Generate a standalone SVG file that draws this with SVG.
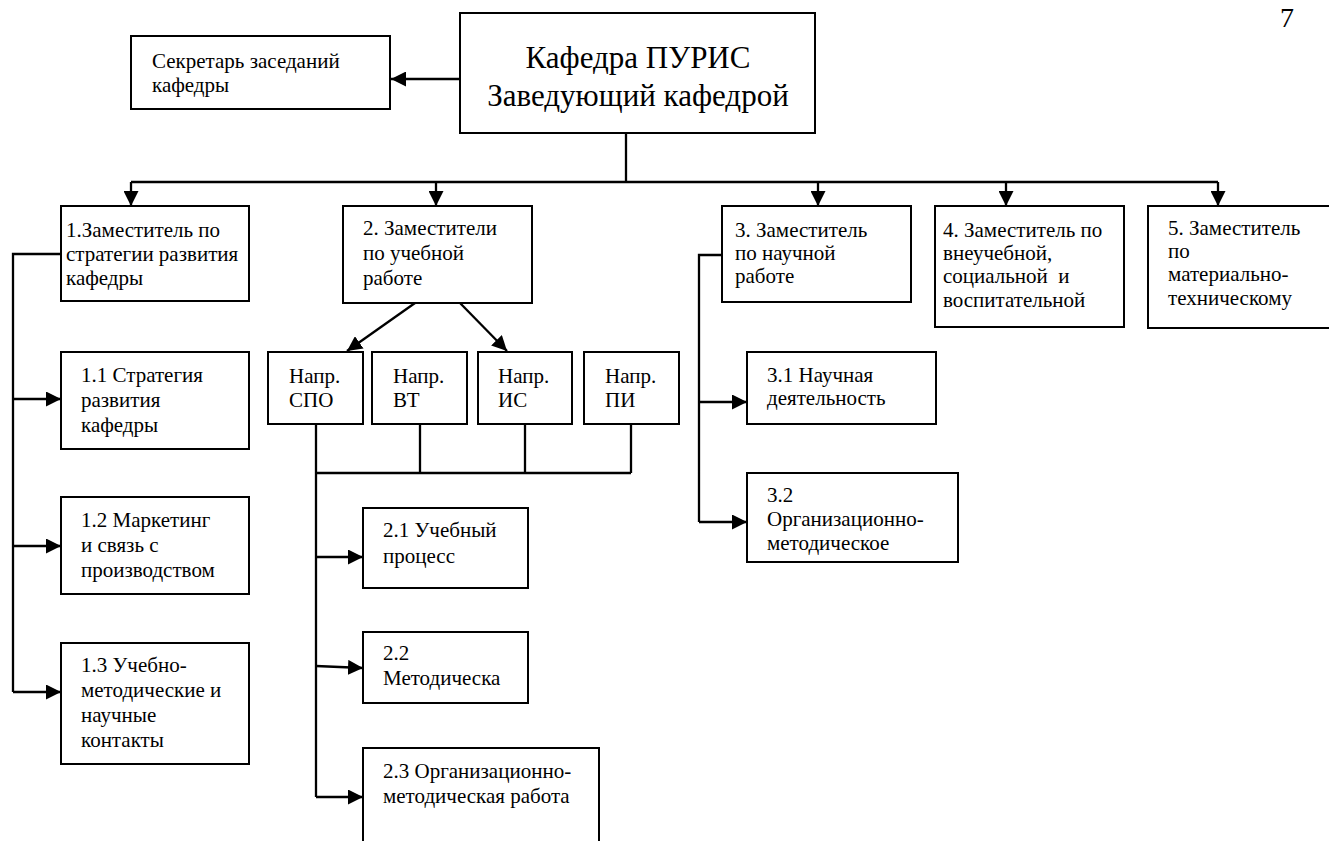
<svg xmlns="http://www.w3.org/2000/svg" width="1329" height="841" viewBox="0 0 1329 841" xml:lang="ru">
<defs>
<marker id="ah" markerUnits="userSpaceOnUse" markerWidth="15" markerHeight="15" viewBox="0 0 15 15" refX="15" refY="7.5" orient="auto">
<path d="M0,0 L15,7.5 L0,15 Z" fill="#000"/>
</marker>
</defs>
<rect width="1329" height="841" fill="#fff"/>
<text x="1287" y="27" style="font-family:'Liberation Serif','Times New Roman',serif;font-size:28px" text-anchor="middle">7</text>

<g id="connectors" fill="none" stroke="#000" stroke-width="2.3">
<path d="M626,133 V182 M131,182 H1218 M61,254 H13 V692 M316,424 V797 M420,424 V473 M525,424 V473 M631,424 V473 M316,473 H631 M722,255 H699 V522"/>
<g marker-end="url(#ah)">
<path d="M460,79 H391"/>
<path d="M131,182 V206"/>
<path d="M436,182 V206"/>
<path d="M818,182 V206"/>
<path d="M1006,182 V206"/>
<path d="M1218,182 V206"/>
<path d="M13,399 H61"/>
<path d="M13,546 H61"/>
<path d="M13,692 H61"/>
<path d="M415,303 L347,351"/>
<path d="M460,303 L507,351"/>
<path d="M316,557 H363"/>
<path d="M316,666 L363,668"/>
<path d="M316,797 H363"/>
<path d="M699,402 H747"/>
<path d="M699,522 H747"/>
</g>
</g>

<g id="boxes" fill="#fff" stroke="#000" stroke-width="2">
<rect id="r-head" x="460" y="13" width="355" height="120"/>
<rect id="r-secretary" x="131" y="36" width="259" height="73"/>
<rect id="r-dep1" x="61" y="206" width="188" height="95"/>
<rect id="r-dep2" x="343" y="206" width="189" height="97"/>
<rect id="r-dep3" x="722" y="206" width="189" height="96"/>
<rect id="r-dep4" x="935" y="206" width="189" height="121"/>
<rect id="r-dep5" x="1148" y="206" width="200" height="122"/>
<rect id="r-n11" x="61" y="352" width="188" height="97"/>
<rect id="r-n12" x="61" y="497" width="188" height="97"/>
<rect id="r-n13" x="61" y="643" width="188" height="121"/>
<rect id="r-spo" x="268" y="352" width="95" height="72"/>
<rect id="r-vt" x="372" y="352" width="95" height="72"/>
<rect id="r-is" x="478" y="352" width="94" height="72"/>
<rect id="r-pi" x="584" y="352" width="95" height="72"/>
<rect id="r-n21" x="363" y="508" width="165" height="80"/>
<rect id="r-n22" x="363" y="632" width="165" height="71"/>
<rect id="r-n23" x="363" y="748" width="236" height="110"/>
<rect id="r-n31" x="747" y="352" width="189" height="72"/>
<rect id="r-n32" x="747" y="473" width="211" height="89"/>
</g>

<g id="head">
<text x="638" y="68" style="font-family:'Liberation Serif','Times New Roman',serif;font-size:31px" text-anchor="middle">Кафедра ПУРИС</text>
<text x="638" y="106" style="font-family:'Liberation Serif','Times New Roman',serif;font-size:31px" text-anchor="middle">Заведующий кафедрой</text>
</g>
<g id="secretary">
<text x="152" y="68" style="font-family:'Liberation Serif','Times New Roman',serif;font-size:21px">Секретарь заседаний</text>
<text x="152" y="92" style="font-family:'Liberation Serif','Times New Roman',serif;font-size:21px">кафедры</text>
</g>
<g id="dep1">
<text x="66" y="237" style="font-family:'Liberation Serif','Times New Roman',serif;font-size:21px">1.Заместитель по</text>
<text x="66" y="261" style="font-family:'Liberation Serif','Times New Roman',serif;font-size:21px">стратегии развития</text>
<text x="66" y="285" style="font-family:'Liberation Serif','Times New Roman',serif;font-size:21px">кафедры</text>
</g>
<g id="dep2">
<text x="363" y="235" style="font-family:'Liberation Serif','Times New Roman',serif;font-size:21px">2. Заместители</text>
<text x="363" y="260" style="font-family:'Liberation Serif','Times New Roman',serif;font-size:21px">по учебной</text>
<text x="363" y="285" style="font-family:'Liberation Serif','Times New Roman',serif;font-size:21px">работе</text>
</g>
<g id="dep3">
<text x="735" y="237" style="font-family:'Liberation Serif','Times New Roman',serif;font-size:21px">3. Заместитель</text>
<text x="735" y="260" style="font-family:'Liberation Serif','Times New Roman',serif;font-size:21px">по научной</text>
<text x="735" y="283" style="font-family:'Liberation Serif','Times New Roman',serif;font-size:21px">работе</text>
</g>
<g id="dep4">
<text x="943" y="237" style="font-family:'Liberation Serif','Times New Roman',serif;font-size:21px">4. Заместитель по</text>
<text x="943" y="260" style="font-family:'Liberation Serif','Times New Roman',serif;font-size:21px">внеучебной,</text>
<text x="943" y="283" style="font-family:'Liberation Serif','Times New Roman',serif;font-size:21px">социальной&#160; и</text>
<text x="943" y="307" style="font-family:'Liberation Serif','Times New Roman',serif;font-size:21px">воспитательной</text>
</g>
<g id="dep5">
<text x="1168" y="235" style="font-family:'Liberation Serif','Times New Roman',serif;font-size:21px">5. Заместитель</text>
<text x="1168" y="258" style="font-family:'Liberation Serif','Times New Roman',serif;font-size:21px">по</text>
<text x="1168" y="281" style="font-family:'Liberation Serif','Times New Roman',serif;font-size:21px">материально-</text>
<text x="1168" y="305" style="font-family:'Liberation Serif','Times New Roman',serif;font-size:21px">техническому</text>
</g>
<g id="n11">
<text x="81" y="382" style="font-family:'Liberation Serif','Times New Roman',serif;font-size:21px">1.1 Стратегия</text>
<text x="81" y="407" style="font-family:'Liberation Serif','Times New Roman',serif;font-size:21px">развития</text>
<text x="81" y="432" style="font-family:'Liberation Serif','Times New Roman',serif;font-size:21px">кафедры</text>
</g>
<g id="n12">
<text x="81" y="527" style="font-family:'Liberation Serif','Times New Roman',serif;font-size:21px">1.2 Маркетинг</text>
<text x="81" y="552" style="font-family:'Liberation Serif','Times New Roman',serif;font-size:21px">и связь с</text>
<text x="81" y="577" style="font-family:'Liberation Serif','Times New Roman',serif;font-size:21px">производством</text>
</g>
<g id="n13">
<text x="81" y="672" style="font-family:'Liberation Serif','Times New Roman',serif;font-size:21px">1.3 Учебно-</text>
<text x="81" y="697" style="font-family:'Liberation Serif','Times New Roman',serif;font-size:21px">методические и</text>
<text x="81" y="722" style="font-family:'Liberation Serif','Times New Roman',serif;font-size:21px">научные</text>
<text x="81" y="747" style="font-family:'Liberation Serif','Times New Roman',serif;font-size:21px">контакты</text>
</g>
<g id="spo">
<text x="289" y="383" style="font-family:'Liberation Serif','Times New Roman',serif;font-size:21px">Напр.</text>
<text x="289" y="407" style="font-family:'Liberation Serif','Times New Roman',serif;font-size:21px">СПО</text>
</g>
<g id="vt">
<text x="393" y="383" style="font-family:'Liberation Serif','Times New Roman',serif;font-size:21px">Напр.</text>
<text x="393" y="407" style="font-family:'Liberation Serif','Times New Roman',serif;font-size:21px">ВТ</text>
</g>
<g id="is">
<text x="498" y="383" style="font-family:'Liberation Serif','Times New Roman',serif;font-size:21px">Напр.</text>
<text x="498" y="407" style="font-family:'Liberation Serif','Times New Roman',serif;font-size:21px">ИС</text>
</g>
<g id="pi">
<text x="605" y="383" style="font-family:'Liberation Serif','Times New Roman',serif;font-size:21px">Напр.</text>
<text x="605" y="407" style="font-family:'Liberation Serif','Times New Roman',serif;font-size:21px">ПИ</text>
</g>
<g id="n21">
<text x="383" y="537" style="font-family:'Liberation Serif','Times New Roman',serif;font-size:21px">2.1 Учебный</text>
<text x="383" y="563" style="font-family:'Liberation Serif','Times New Roman',serif;font-size:21px">процесс</text>
</g>
<g id="n22">
<text x="383" y="660" style="font-family:'Liberation Serif','Times New Roman',serif;font-size:21px">2.2</text>
<text x="383" y="685" style="font-family:'Liberation Serif','Times New Roman',serif;font-size:21px">Методическа</text>
</g>
<g id="n23">
<text x="383" y="778" style="font-family:'Liberation Serif','Times New Roman',serif;font-size:21px">2.3 Организационно-</text>
<text x="383" y="803" style="font-family:'Liberation Serif','Times New Roman',serif;font-size:21px">методическая работа</text>
</g>
<g id="n31">
<text x="767" y="382" style="font-family:'Liberation Serif','Times New Roman',serif;font-size:21px">3.1 Научная</text>
<text x="767" y="405" style="font-family:'Liberation Serif','Times New Roman',serif;font-size:21px">деятельность</text>
</g>
<g id="n32">
<text x="767" y="502" style="font-family:'Liberation Serif','Times New Roman',serif;font-size:21px">3.2</text>
<text x="767" y="526" style="font-family:'Liberation Serif','Times New Roman',serif;font-size:21px">Организационно-</text>
<text x="767" y="550" style="font-family:'Liberation Serif','Times New Roman',serif;font-size:21px">методическое</text>
</g>
</svg>
